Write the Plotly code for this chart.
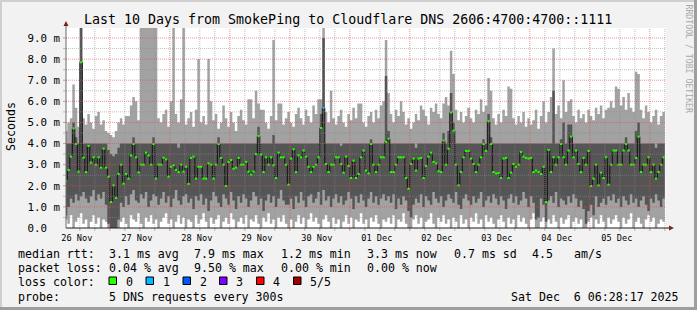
import plotly.graph_objects as go
from datetime import datetime, timedelta

# ---------------- data ----------------
first_bin = datetime(2025, 11, 26, 6, 0, 0)
end_time = datetime(2025, 12, 6, 6, 28, 17)
start_time = end_time - timedelta(days=10)

median_rtt = [
    2.24, 2.75, 3.38, 4.72, 3.98, 2.67, 7.85, 3.33, 2.65, 3.89,
    3.10, 3.35, 3.00, 3.35, 2.86, 3.76, 2.86, 2.43, 1.23, 2.02,
    1.42, 2.56, 3.00, 2.10, 2.56, 2.34, 3.43, 3.98, 3.35, 2.64,
    3.00, 3.00, 3.57, 3.44, 3.00, 3.98, 2.34, 3.00, 3.00, 3.33,
    3.25, 2.43, 2.90, 2.97, 2.75, 2.65, 3.00, 2.67, 2.90, 2.09,
    3.32, 3.38, 2.34, 2.90, 2.90, 2.34, 2.34, 3.06, 3.00, 2.34,
    3.00, 3.98, 3.32, 3.00, 1.99, 3.13, 3.22, 2.81, 2.86, 3.32,
    3.00, 3.00, 3.13, 2.67, 2.53, 2.67, 3.50, 4.36, 3.48, 2.65,
    3.35, 3.00, 3.35, 2.97, 2.37, 3.57, 3.35, 3.35, 3.00, 2.05,
    3.29, 3.73, 2.65, 3.44, 3.35, 3.67, 3.38, 2.90, 2.65, 2.90,
    3.00, 3.35, 4.74, 5.69, 3.03, 2.65, 3.00, 3.00, 3.35, 3.35,
    3.03, 2.62, 3.38, 2.94, 2.37, 3.19, 2.37, 2.56, 3.35, 3.67,
    2.72, 2.59, 3.98, 3.00, 2.65, 3.00, 3.35, 3.35, 4.08, 4.23,
    2.65, 2.65, 3.00, 3.35, 3.35, 3.35, 2.37, 1.86, 3.03, 3.29,
    2.72, 3.29, 3.32, 2.37, 2.94, 3.38, 3.57, 3.13, 3.06, 2.69,
    2.65, 4.14, 3.00, 3.76, 5.47, 4.61, 3.00, 2.02, 2.65, 3.35,
    3.65, 3.65, 3.29, 3.03, 2.65, 3.00, 3.35, 3.98, 3.65, 5.06,
    3.98, 2.65, 2.59, 2.60, 2.37, 3.29, 3.32, 2.37, 2.62, 3.03,
    2.90, 3.00, 3.60, 3.38, 3.32, 3.29, 3.32, 2.65, 2.72, 2.65,
    2.56, 2.90, 1.23, 3.70, 2.65, 3.35, 3.00, 3.35, 3.98, 3.35,
    3.00, 3.67, 4.33, 3.35, 3.67, 3.03, 2.65, 3.32, 3.00, 3.65,
    1.99, 2.34, 3.00, 2.02, 2.62, 2.37, 3.35, 2.05, 3.00, 3.67,
    3.67, 3.00, 3.00, 3.67, 3.98, 3.67, 3.00, 3.00, 3.32, 4.33,
    2.65, 3.00, 3.00, 3.35, 2.65, 3.00, 2.34, 2.65, 3.00, 3.35,
]

smoke_min = [
    0.4, 0.2, 0.6, 0.0, 0.3, 0.5, 0.7, 0.2, 0.4, 0.0,
    0.3, 0.6, 0.2, 0.5, 0.0, 0.4, 0.3, 0.0, 0.0, 0.0,
    0.0, 0.0, 0.3, 0.5, 0.2, 0.0, 0.6, 0.4, 0.3, 0.7,
    0.2, 0.0, 0.5, 0.3, 0.6, 0.2, 0.4, 0.0, 0.3, 0.5,
    0.7, 0.2, 0.4, 0.0, 0.3, 0.6, 0.2, 0.5, 0.0, 0.4,
    0.3, 0.0, 0.6, 0.2, 0.4, 0.7, 0.3, 0.0, 0.5, 0.2,
    0.4, 0.6, 0.0, 0.3, 0.5, 0.2, 0.7, 0.4, 0.0, 0.3,
    0.5, 0.2, 0.6, 0.0, 0.4, 0.3, 0.6, 0.2, 0.0, 0.5,
    0.3, 0.7, 0.2, 0.4, 0.0, 0.5, 0.3, 0.6, 0.2, 0.0,
    0.4, 0.0, 0.3, 0.6, 0.2, 0.5, 0.0, 0.4, 0.7, 0.3,
    0.5, 0.2, 0.0, 0.4, 0.6, 0.3, 0.0, 0.5, 0.2, 0.4,
    0.0, 0.3, 0.6, 0.2, 0.5, 0.0, 0.4, 0.3, 0.7, 0.2,
    0.4, 0.0, 0.5, 0.3, 0.6, 0.2, 0.0, 0.4, 0.3, 0.5,
    0.2, 0.6, 0.0, 0.4, 0.3, 0.7, 0.2, 0.0, 0.0, 0.4,
    0.6, 0.2, 0.5, 0.0, 0.3, 0.4, 0.7, 0.2, 0.0, 0.5,
    0.3, 0.6, 0.2, 0.4, 0.0, 0.5, 0.3, 0.0, 0.6, 0.2,
    0.4, 0.0, 0.5, 0.3, 0.7, 0.2, 0.4, 0.0, 0.6, 0.3,
    0.5, 0.2, 0.0, 0.4, 0.6, 0.3, 0.0, 0.5, 0.2, 0.4,
    0.0, 0.6, 0.3, 0.5, 0.2, 0.0, 0.4, 0.7, 0.0, 0.0,
    0.3, 0.5, 0.0, 0.4, 0.2, 0.6, 0.3, 0.0, 0.5, 0.2,
    0.4, 0.6, 0.0, 0.3, 0.5, 0.2, 0.4, 0.0, 0.0, 0.3,
    0.5, 0.0, 0.4, 0.2, 0.6, 0.3, 0.0, 0.5, 0.2, 0.4,
    0.6, 0.3, 0.0, 0.5, 0.2, 0.4, 0.7, 0.0, 0.3, 0.5,
    0.2, 0.0, 0.4, 0.6, 0.3, 0.5, 0.0, 0.2, 0.4, 0.3,
]

smoke_low = [
    0.6, 1.0, 1.4, 1.2, 1.6, 1.3, 1.5, 1.7, 1.4, 1.2,
    1.5, 1.8, 1.3, 1.6, 1.4, 1.7, 1.1, 0.2, 0.0, 0.0,
    0.0, 0.4, 1.2, 1.0, 1.5, 1.1, 1.6, 1.8, 1.3, 1.2,
    1.6, 1.4, 1.7, 1.0, 1.3, 1.6, 1.5, 1.1, 1.4, 1.7,
    1.2, 1.5, 1.0, 1.4, 1.8, 1.3, 1.1, 1.5, 1.6, 1.2,
    1.4, 0.9, 1.5, 1.3, 1.6, 1.1, 1.4, 0.8, 1.3, 1.7,
    1.5, 1.2, 1.0, 1.6, 1.4, 1.1, 1.7, 1.3, 0.9, 1.5,
    1.2, 1.6, 1.4, 1.0, 1.3, 1.7, 1.5, 1.1, 1.4, 0.8,
    1.3, 1.6, 1.2, 1.5, 1.0, 1.4, 1.8, 1.3, 1.1, 1.1,
    1.4, 0.9, 1.5, 1.2, 1.7, 1.3, 1.0, 1.5, 1.6, 1.2,
    1.4, 1.7, 1.1, 1.8, 1.3, 1.5, 1.0, 1.4, 1.6, 1.2,
    1.5, 1.1, 1.3, 1.7, 1.4, 0.9, 1.5, 1.2, 1.6, 1.3,
    1.0, 1.4, 1.7, 1.2, 1.5, 1.1, 1.4, 1.6, 1.3, 1.5,
    1.2, 1.6, 0.9, 1.4, 1.1, 1.5, 1.3, 0.8, 0.5, 1.1,
    1.4, 1.2, 1.6, 1.0, 1.5, 1.3, 1.1, 1.7, 1.4, 1.2,
    1.5, 1.0, 1.3, 1.6, 1.4, 1.2, 1.7, 1.1, 0.9, 1.4,
    1.6, 1.3, 1.1, 1.5, 1.2, 1.4, 1.7, 1.0, 1.3, 1.5,
    1.2, 1.6, 1.4, 1.1, 1.5, 1.3, 0.9, 1.4, 1.6, 1.2,
    1.5, 1.1, 1.3, 1.7, 1.4, 1.0, 1.5, 1.2, 0.4, 0.5,
    1.4, 1.1, 0.3, 1.3, 1.5, 1.2, 1.7, 1.0, 1.4, 1.3,
    1.1, 1.5, 1.2, 1.6, 1.4, 1.0, 1.3, 0.9, 0.2, 0.8,
    1.1, 0.6, 1.5, 1.0, 1.2, 1.4, 1.1, 1.5, 1.3, 1.6,
    1.2, 1.4, 1.0, 1.5, 1.3, 1.1, 1.6, 1.2, 1.4, 1.0,
    1.3, 1.5, 1.1, 0.8, 1.4, 1.2, 1.6, 1.3, 1.0, 1.4,
]

smoke_high = [
    4.0, 4.0, 4.0, 5.0, 4.3, 4.0, 11.0, 4.0, 4.0, 4.0,
    4.0, 4.0, 4.0, 4.0, 4.0, 4.0, 4.0, 3.7, 3.5, 3.4,
    3.5, 3.8, 4.0, 4.0, 4.0, 4.0, 4.0, 4.3, 4.0, 4.0,
    4.0, 4.0, 4.0, 4.0, 4.0, 4.3, 4.0, 4.0, 4.0, 4.0,
    4.0, 4.0, 4.0, 4.0, 4.0, 3.8, 4.0, 4.0, 4.0, 4.0,
    4.0, 4.0, 4.0, 4.0, 4.0, 4.0, 4.0, 4.0, 4.0, 4.0,
    4.0, 4.3, 4.0, 4.0, 4.0, 4.0, 4.0, 4.0, 4.0, 4.0,
    4.0, 4.0, 4.0, 4.0, 4.0, 4.0, 4.0, 4.8, 4.0, 4.0,
    4.0, 4.0, 4.0, 4.4, 4.0, 4.0, 4.0, 4.0, 4.0, 4.0,
    4.0, 4.0, 4.0, 4.0, 4.0, 4.0, 4.0, 4.0, 4.0, 4.0,
    4.0, 4.0, 5.4, 9.0, 4.0, 4.0, 4.0, 4.0, 4.0, 4.0,
    3.9, 4.0, 4.0, 4.0, 4.0, 4.0, 4.0, 4.0, 4.0, 4.0,
    4.0, 4.0, 4.2, 4.0, 4.0, 4.0, 4.0, 4.0, 7.2, 4.6,
    4.0, 4.0, 4.0, 4.0, 4.0, 4.0, 4.0, 4.0, 4.0, 4.0,
    3.8, 4.0, 4.0, 4.0, 4.0, 4.0, 4.0, 4.0, 4.0, 4.0,
    4.0, 4.5, 4.0, 4.6, 6.4, 5.0, 4.0, 4.0, 4.0, 4.0,
    4.0, 4.0, 4.0, 4.0, 4.0, 4.0, 4.0, 4.2, 4.0, 5.4,
    4.3, 4.0, 4.0, 4.0, 4.0, 4.0, 4.0, 4.0, 4.0, 4.0,
    4.0, 4.0, 4.0, 4.0, 4.0, 4.0, 4.0, 4.0, 4.0, 4.0,
    4.0, 4.0, 4.0, 4.0, 4.0, 6.5, 4.0, 4.0, 4.2, 5.0,
    4.0, 4.9, 4.9, 4.0, 4.0, 4.0, 4.0, 4.0, 4.0, 4.0,
    4.0, 4.0, 4.0, 4.0, 4.0, 4.0, 4.0, 4.0, 4.0, 4.0,
    4.0, 4.0, 4.0, 4.0, 4.3, 4.0, 4.0, 4.0, 4.6, 5.0,
    4.0, 4.0, 4.0, 4.0, 4.0, 4.0, 3.8, 4.0, 4.0, 4.0,
]

smoke_max = [
    4.6, 5.0, 5.2, 6.8, 5.7, 4.8, 11.0, 5.2, 4.9, 5.4,
    5.0, 4.7, 5.3, 5.5, 4.9, 5.1, 4.6, 4.5, 4.4, 4.3,
    4.6, 5.0, 5.2, 4.9, 5.3, 5.3, 5.8, 6.2, 6.0, 5.1,
    11.0, 11.0, 11.0, 11.0, 11.0, 11.0, 11.0, 5.2, 5.0, 5.4,
    5.6, 4.8, 6.0, 11.0, 5.4, 5.0, 6.1, 11.0, 4.9, 5.2,
    5.5, 4.8, 5.6, 8.0, 5.0, 5.3, 4.9, 8.0, 6.0, 5.1,
    5.4, 4.7, 5.0, 5.8, 5.2, 4.8, 5.5, 5.0, 4.6, 5.3,
    5.6, 5.1, 4.9, 6.1, 6.1, 5.2, 6.5, 5.9, 5.6, 5.6,
    5.0, 4.7, 5.3, 8.9, 5.1, 5.9, 5.9, 4.9, 5.2, 5.5,
    5.0, 4.8, 5.4, 5.7, 5.2, 4.9, 5.6, 5.3, 5.0, 5.8,
    5.4, 6.1, 6.1, 11.0, 5.5, 5.0, 6.5, 5.2, 4.9, 5.3,
    5.6, 5.0, 4.8, 5.4, 5.1, 5.7, 5.2, 5.9, 5.9, 5.0,
    4.8, 5.3, 5.5, 5.0, 5.6, 5.2, 5.8, 6.0, 8.9, 6.4,
    5.4, 5.0, 5.6, 5.3, 6.0, 5.5, 4.9, 5.2, 4.7, 5.0,
    5.4, 5.1, 5.8, 5.6, 5.3, 4.9, 5.7, 5.5, 5.9, 5.4,
    5.2, 5.9, 6.2, 5.8, 8.4, 7.3, 5.6, 5.1, 5.5, 5.0,
    5.3, 5.7, 5.2, 5.0, 5.6, 5.4, 6.1, 5.5, 5.8, 7.1,
    6.5, 5.2, 4.9, 5.4, 5.0, 5.6, 5.3, 6.7, 6.6, 5.2,
    4.9, 5.3, 5.0, 5.5, 4.8, 5.2, 4.9, 5.1, 5.6, 4.7,
    5.3, 6.0, 5.0, 5.5, 6.2, 8.5, 5.4, 5.8, 5.2, 7.0,
    5.5, 6.0, 6.1, 5.3, 5.0, 5.6, 5.2, 5.4, 5.0, 5.6,
    5.3, 5.1, 5.7, 5.4, 5.8, 5.2, 5.6, 5.7, 6.0, 5.7,
    6.7, 6.6, 5.8, 6.2, 5.6, 6.4, 5.7, 5.5, 7.4, 7.3,
    5.6, 5.2, 5.8, 5.5, 5.0, 5.3, 5.6, 4.9, 5.3, 5.5,
]

loss_index = [103]          # bins with packet loss
loss_level = [1]            # lost pings in that bin

day_labels = ["26 Nov", "27 Nov", "28 Nov", "29 Nov", "30 Nov",
              "01 Dec", "02 Dec", "03 Dec", "04 Dec", "05 Dec"]
y_tick_values = [0, 1, 2, 3, 4, 5, 6, 7, 8, 9]
y_tick_labels = ["0.0\u00a0\u00a0", "1.0 m", "2.0 m", "3.0 m", "4.0 m",
                 "5.0 m", "6.0 m", "7.0 m", "8.0 m", "9.0 m"]

title_text = "Last 10 Days from SmokePing to Cloudflare DNS 2606:4700:4700::1111"
rtt_items = ["median rtt:", "3.1 ms avg", "7.9 ms max", "1.2 ms min",
             "3.3 ms now", "0.7 ms sd", "4.5", "am/s"]
loss_items = ["packet loss:", "0.04 % avg", "9.50 % max", "0.00 % min", "0.00 % now"]
loss_color_labels = ["0", "1", "2", "3", "4", "5/5"]
loss_colors = ["#26ff00", "#00b8ff", "#0059ff", "#7e00ff", "#ff0000", "#a00000"]
probe_items = ["probe:", "5 DNS requests every 300s"]
timestamp_text = "Sat Dec\u00a0\u00a06 06:28:17 2025"
credit_text = "RRDTOOL / TOBI OETIKER"

# ---------------- geometry helpers (pixel -> paper) ----------------
W, H = 697, 310
PL, PR, PT, PB = 66, 666, 28, 228
Y_TOP = (PB - PT) / ((PB - 38) / 9.0)


def px(x):
    return (x - PL) / (PR - PL)


def py(y):
    return (PB - y) / (PB - PT)


MONO = "DejaVu Sans Mono"
LIGHT = "#a2a2a2"
DARK = "#555555"

edges = [first_bin + timedelta(hours=i) for i in range(len(median_rtt) + 1)]


def stepped(vals):
    return list(vals) + [vals[-1]]


fig = go.Figure()
fig.add_trace(go.Scatter(x=edges, y=stepped(smoke_min), mode="lines", line_shape="hv",
                         line=dict(width=0), hoverinfo="skip"))
fig.add_trace(go.Scatter(x=edges, y=stepped(smoke_max), mode="lines", line_shape="hv",
                         line=dict(width=0), fill="tonexty", fillcolor=LIGHT, hoverinfo="skip"))
fig.add_trace(go.Scatter(x=edges, y=stepped(smoke_low), mode="lines", line_shape="hv",
                         line=dict(width=0), hoverinfo="skip"))
fig.add_trace(go.Scatter(x=edges, y=stepped(smoke_high), mode="lines", line_shape="hv",
                         line=dict(width=0), fill="tonexty", fillcolor=DARK, hoverinfo="skip"))
fig.add_trace(go.Scatter(x=edges, y=stepped(median_rtt), mode="lines", line_shape="hv",
                         line=dict(width=1, color="#101010"), hoverinfo="skip"))

seg_x = {k: [] for k in range(len(loss_colors))}
seg_y = {k: [] for k in range(len(loss_colors))}
for i, m in enumerate(median_rtt):
    lvl = loss_level[loss_index.index(i)] if i in loss_index else 0
    seg_x[lvl] += [edges[i], edges[i + 1], None]
    seg_y[lvl] += [m, m, None]
for lvl, xs in seg_x.items():
    if xs:
        fig.add_trace(go.Scatter(x=xs, y=seg_y[lvl], mode="lines",
                                 line=dict(width=2, color=loss_colors[lvl]), hoverinfo="skip"))

shapes = []
# grid (drawn on top, like rrdtool)
GRID = "rgba(140,140,140,0.55)"
MGRID = "rgba(222,79,79,0.6)"
t = datetime(2025, 11, 26, 12, 0)
while t < end_time:
    major = t.hour == 0
    col = MGRID if major else GRID
    shapes.append(dict(type="line", xref="x", yref="paper", x0=t, x1=t, y0=0, y1=1,
                       line=dict(color=col, width=1, dash="1px,1px"), layer="above"))
    shapes.append(dict(type="line", xref="x", yref="paper", x0=t, x1=t, y0=py(228), y1=py(231),
                       line=dict(color=col, width=1), layer="above"))
    t += timedelta(hours=6)
for k in range(1, 19):
    v = k * 0.5
    col = MGRID if k % 2 == 0 else GRID
    shapes.append(dict(type="line", xref="paper", yref="y", x0=0, x1=1, y0=v, y1=v,
                       line=dict(color=col, width=1, dash="1px,1px"), layer="above"))
    shapes.append(dict(type="line", xref="paper", yref="y", x0=px(63), x1=px(66), y0=v, y1=v,
                       line=dict(color=col, width=1), layer="above"))

# axes
shapes.append(dict(type="line", xref="paper", yref="paper", x0=px(66), x1=px(669),
                   y0=py(228), y1=py(228), line=dict(color="#1f1f1f", width=1), layer="above"))
shapes.append(dict(type="line", xref="paper", yref="paper", x0=px(66), x1=px(66),
                   y0=py(228), y1=py(25), line=dict(color="#6a6a6a", width=1), layer="above"))
# arrows
ARROW = "#801f1f"
shapes.append(dict(type="path", xref="paper", yref="paper",
                   path=f"M {px(66)} {py(21)} L {px(63.5)} {py(26)} L {px(68.5)} {py(26)} Z",
                   fillcolor=ARROW, line=dict(width=0), layer="above"))
shapes.append(dict(type="path", xref="paper", yref="paper",
                   path=f"M {px(674)} {py(228)} L {px(669)} {py(225.5)} L {px(669)} {py(230.5)} Z",
                   fillcolor=ARROW, line=dict(width=0), layer="above"))
# bevel border
shapes.append(dict(type="rect", xref="paper", yref="paper", x0=px(0), x1=px(697), y0=py(0), y1=py(2),
                   fillcolor="#cfcfcf", line=dict(width=0), layer="above"))
shapes.append(dict(type="rect", xref="paper", yref="paper", x0=px(0), x1=px(2), y0=py(0), y1=py(310),
                   fillcolor="#cfcfcf", line=dict(width=0), layer="above"))
shapes.append(dict(type="rect", xref="paper", yref="paper", x0=px(0), x1=px(697), y0=py(307), y1=py(310),
                   fillcolor="#9e9e9e", line=dict(width=0), layer="above"))
shapes.append(dict(type="rect", xref="paper", yref="paper", x0=px(694), x1=px(697), y0=py(0), y1=py(310),
                   fillcolor="#9e9e9e", line=dict(width=0), layer="above"))
# loss colour boxes
box_x = [109, 146, 183, 219.5, 256.5, 293.5]
for bx, c in zip(box_x, loss_colors):
    shapes.append(dict(type="rect", xref="paper", yref="paper", x0=px(bx), x1=px(bx + 7.5),
                       y0=py(277), y1=py(284.5), fillcolor=c,
                       line=dict(color="#000000", width=1), layer="above"))

annotations = []


def text(s, x, y, size=11.6, xanchor="left", color="#000000", angle=0):
    annotations.append(dict(text=s, x=px(x), y=py(y), xref="paper", yref="paper",
                            xanchor=xanchor, yanchor="middle", showarrow=False,
                            textangle=angle, font=dict(family=MONO, size=size, color=color)))


text(title_text, 348, 19, size=13.3, xanchor="center")
text("Seconds", 11, 127, size=11.6, xanchor="center", angle=-90)
text(credit_text, 688.5, 59, size=8.2, xanchor="center", color="#a8a8a8", angle=90)

rtt_x = [16, 107, 191.5, 279.3, 365, 451.7, 530, 571.7]
for s, x in zip(rtt_items, rtt_x):
    text(s, x, 254)
loss_x = [16, 107, 191.5, 279.3, 365]
for s, x in zip(loss_items, loss_x):
    text(s, x, 268.3)
text("loss color:", 16, 282.4)
for s, bx in zip(loss_color_labels, box_x):
    text(s, bx + 14.5, 282.4)
text(probe_items[0], 16, 296.6)
text(probe_items[1], 107, 296.6)
text(timestamp_text, 680.5, 296.6, xanchor="right")

noon_ticks = [datetime(2025, 11, 26, 12) + timedelta(days=d) for d in range(len(day_labels))]

fig.update_layout(
    width=W, height=H,
    margin=dict(l=PL, r=W - PR, t=PT, b=H - PB, pad=0),
    paper_bgcolor="#f2f2f2", plot_bgcolor="#ffffff",
    showlegend=False,
    shapes=shapes, annotations=annotations,
    xaxis=dict(type="date", range=[start_time, end_time], showgrid=False, zeroline=False,
               showline=False, ticks="", tickvals=noon_ticks, ticktext=day_labels,
               tickfont=dict(family=MONO, size=8.6, color="#000000"),
               ticklabelshift=-3, ticklabelstandoff=3, fixedrange=True),
    yaxis=dict(range=[0, Y_TOP], showgrid=False, zeroline=False, showline=False, ticks="",
               tickvals=y_tick_values, ticktext=y_tick_labels,
               tickfont=dict(family=MONO, size=10.8, color="#000000"),
               ticklabelstandoff=5, fixedrange=True),
)

fig.write_html("out.html")
